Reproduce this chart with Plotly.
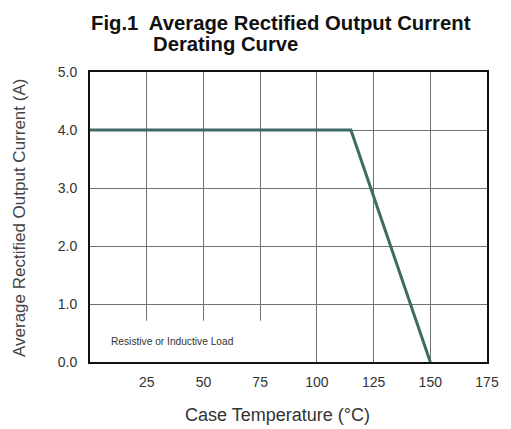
import plotly.graph_objects as go

temps = [0, 115, 150]
current = [4.0, 4.0, 0.0]
x_ticks = [25, 50, 75, 100, 125, 150, 175]
y_ticks = [0, 1, 2, 3, 4, 5]

FONT = "Liberation Sans, Arial, Helvetica"

fig = go.Figure()
fig.add_trace(go.Scatter(x=temps, y=current, mode="lines",
                         line=dict(color="#3f6b66", width=3), showlegend=False,
                         cliponaxis=False))

fig.add_shape(type="rect", xref="x", yref="y", x0=0, x1=96, y0=0, y1=0.71,
              fillcolor="white", line=dict(width=0), layer="between")

fig.add_annotation(text="Resistive or Inductive Load", xref="x", yref="y",
                   x=8.5, y=0.36, xanchor="left", yanchor="middle", showarrow=False,
                   font=dict(family=FONT, size=10.2, color="#333"))

font_title = dict(family=FONT, size=20.3, color="#111")
fig.add_annotation(text="<b>Fig.1  Average Rectified Output Current</b>", xref="paper", yref="paper",
                   x=0, y=1, xshift=-1, yshift=49, xanchor="left", yanchor="middle",
                   showarrow=False, font=font_title)
fig.add_annotation(text="<b>Derating Curve</b>", xref="paper", yref="paper",
                   x=0, y=1, xshift=61, yshift=28, xanchor="left", yanchor="middle",
                   showarrow=False, font=font_title)

# axis titles
fig.add_annotation(text="Case Temperature (°C)", xref="paper", yref="paper",
                   x=0.473, y=0, yshift=-53, xanchor="center", yanchor="middle",
                   showarrow=False, font=dict(family=FONT, size=18, color="#333"))
fig.add_annotation(text="Average Rectified Output Current (A)", xref="paper", yref="paper",
                   x=0, y=0.5, xshift=-71, yshift=-1, xanchor="center", yanchor="middle",
                   textangle=-90, showarrow=False, font=dict(family=FONT, size=17, color="#444"))

fig.update_xaxes(range=[0, 175], tickvals=x_ticks, ticks="", showgrid=True,
                 gridcolor="#707070", gridwidth=1.2, zeroline=False,
                 showline=True, linecolor="#111", linewidth=2, mirror=True,
                 ticklabelstandoff=6,
                 tickfont=dict(family=FONT, size=14, color="#333"))
fig.update_yaxes(range=[0, 5], tickvals=y_ticks, tickformat=".1f", ticks="", showgrid=True,
                 gridcolor="#707070", gridwidth=1.2, zeroline=False,
                 showline=True, linecolor="#111", linewidth=2, mirror=True,
                 ticklabelstandoff=8,
                 tickfont=dict(family=FONT, size=14, color="#333"))

fig.update_layout(width=503, height=421, margin=dict(l=82, r=17, t=64, b=67),
                  plot_bgcolor="white", paper_bgcolor="white")

fig.write_html("out.html")
